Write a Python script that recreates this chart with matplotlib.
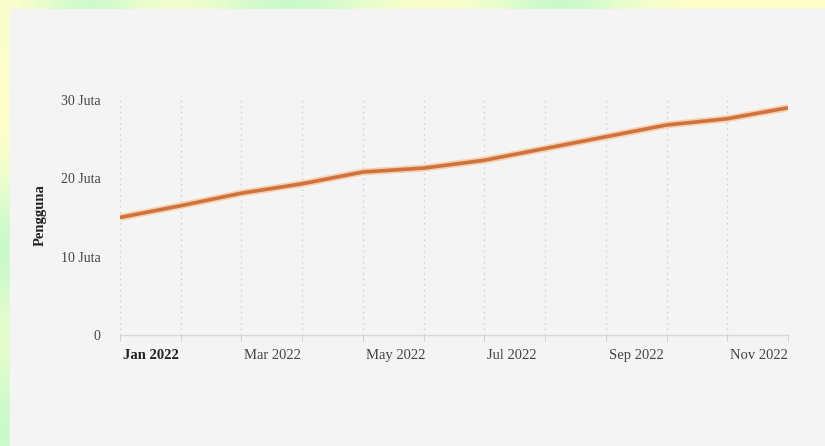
import matplotlib
matplotlib.use("Agg")
import matplotlib.pyplot as plt
import matplotlib.transforms as mtransforms
import numpy as np
from matplotlib.patches import Rectangle

# data: monthly users in 2022 (juta = million)
months = ["Jan", "Feb", "Mar", "Apr", "May", "Jun",
          "Jul", "Aug", "Sep", "Oct", "Nov", "Dec"]
users_juta = [15.0, 16.5, 18.1, 19.3, 20.8, 21.3,
              22.3, 23.8, 25.3, 26.8, 27.6, 29.0]
label_months = ["Jan 2022", "Mar 2022", "May 2022", "Jul 2022", "Sep 2022", "Nov 2022"]
y_ticks = [0, 10, 20, 30]
y_tick_labels = ["0", "10 Juta", "20 Juta", "30 Juta"]

W, H = 825, 446
fig = plt.figure(figsize=(W / 100, H / 100), dpi=100)

# decorative yellow/green background
bg = fig.add_axes([0, 0, 1, 1], zorder=-10)
yy, xx = np.mgrid[0:H, 0:W]
green = np.zeros((H, W))
for cx, cy, r in [(90, 20, 40), (290, 0, 60), (560, 5, 50), (0, 430, 60), (0, 250, 50)]:
    green += np.exp(-((xx - cx) ** 2 + (yy - cy) ** 2) / (2 * r ** 2))
green = np.clip(green, 0, 1)[..., None]
yellow = np.array([1.0, 1.0, 0.80])
mint = np.array([0.80, 0.98, 0.80])
bg.imshow(yellow * (1 - green) + mint * green, aspect="auto", extent=[0, 1, 0, 1])
bg.axis("off")

# light gray panel
fig.patches.append(Rectangle((10 / W, 0), 1 - 10 / W, 1 - 9 / H,
                             transform=fig.transFigure, color="#f4f4f4", zorder=-5))

plt.rcParams["font.family"] = ["Liberation Serif", "DejaVu Serif"]

x = np.arange(len(months))
ax = fig.add_axes([120 / W, 1 - 335 / H, (788 - 120) / W, (335 - 96) / H])
ax.set_facecolor("none")
ax.plot(x, users_juta, color="#f6cfae", linewidth=5, solid_capstyle="butt", zorder=3)
ax.plot(x, users_juta, color="#d0723e", linewidth=2.6, solid_capstyle="butt", zorder=4)

ax.set_xlim(0, 11)
ax.set_ylim(0, 30.5)
for s in ["top", "right", "left"]:
    ax.spines[s].set_visible(False)
ax.spines["bottom"].set_color("#d8d8d8")
ax.spines["bottom"].set_linewidth(1)

ax.set_xticks(x, minor=True)
ax.set_xticks(x[::2])
ax.set_xticklabels(label_months, ha="left")
ax.tick_params(axis="x", which="both", length=4, color="#d0d0d0", pad=6,
               labelsize=10.5, labelcolor="#444444")
ax.get_xticklabels()[0].set_fontweight("bold")
ax.get_xticklabels()[0].set_color("#222222")

ax.set_yticks(y_ticks)
ax.set_yticklabels(y_tick_labels)
ax.tick_params(axis="y", length=0, pad=14, labelsize=10, labelcolor="#444444")

ax.grid(axis="x", which="both", color="#cccccc", linestyle=(0, (1, 3)), linewidth=1)
ax.set_axisbelow(True)

ax.set_ylabel("Pengguna", fontsize=10.5, fontweight="bold", color="#222222", labelpad=10)

# shift x tick labels slightly right of their ticks
offset = mtransforms.ScaledTranslation(3 / 100, 0, fig.dpi_scale_trans)
for lab in ax.get_xticklabels():
    lab.set_transform(lab.get_transform() + offset)

fig.savefig("out.png", dpi=100)
